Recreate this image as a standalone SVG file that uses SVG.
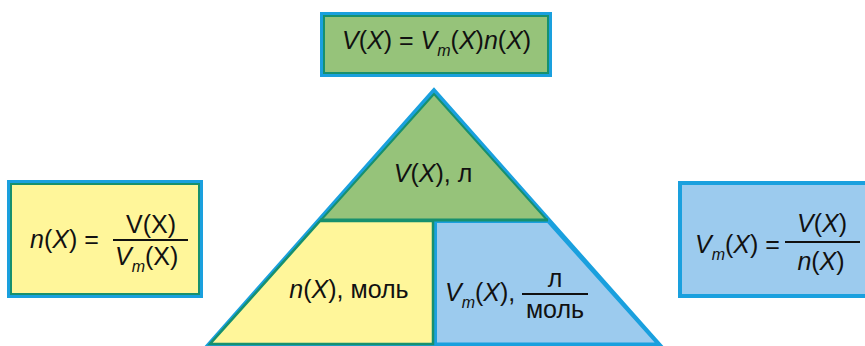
<svg xmlns="http://www.w3.org/2000/svg" width="865" height="346" viewBox="0 0 865 346">
<style>
text{font-family:"Liberation Sans",Arial,sans-serif;font-size:25px;fill:#111}
.i{font-style:italic}
.s{font-style:italic;font-size:16px}
.c{text-anchor:middle}
.blue{stroke:#1aa0de;fill:none}
.teal{stroke:#17906e;fill:none}
.frac{stroke:#111;stroke-width:2}
</style>
<rect width="865" height="346" fill="#ffffff"/>
<g id="formula-V">
<rect x="321.5" y="13.5" width="229" height="62" fill="#96c37a" class="blue" style="fill:#96c37a" stroke-width="3"/>
<rect x="324" y="16" width="224" height="57" class="teal" stroke-width="2"/>
<text x="342" y="49"><tspan class="i">V</tspan>(<tspan class="i">X</tspan>) = <tspan class="i">V</tspan><tspan class="s" dy="7">m</tspan><tspan dy="-7">(</tspan><tspan class="i">X</tspan>)<tspan class="i">n</tspan>(<tspan class="i">X</tspan>)</text>
</g>
<g id="formula-n">
<rect x="8.5" y="181.5" width="193" height="115" class="blue" style="fill:#fff69a" stroke-width="3"/>
<rect x="11" y="184" width="188" height="110" class="teal" stroke-width="2"/>
<text x="30" y="248"><tspan class="i">n</tspan>(<tspan class="i">X</tspan>) =</text>
<line x1="113" y1="240" x2="188" y2="240" class="frac"/>
<text x="151" y="233" class="c">V(X)</text>
<text x="115" y="265"><tspan class="i">V</tspan><tspan class="s" dy="7">m</tspan><tspan dy="-7">(X)</tspan></text>
</g>
<g id="formula-Vm">
<rect x="680" y="183" width="195" height="113" class="blue" style="fill:#9ccbee" stroke-width="4"/>
<text x="695" y="253"><tspan class="i">V</tspan><tspan class="s" dy="7">m</tspan><tspan dy="-7">(</tspan><tspan class="i">X</tspan>) =</text>
<line x1="785" y1="242" x2="860" y2="242" class="frac"/>
<text x="822" y="232" class="c"><tspan class="i">V</tspan>(<tspan class="i">X</tspan>)</text>
<text x="821" y="270" class="c"><tspan class="i">n</tspan>(<tspan class="i">X</tspan>)</text>
</g>
<g id="triangle">
<polygon points="434,91 208,346 660,346" class="blue" stroke-width="5" stroke-linejoin="miter"/>
<polygon points="434,94 321,220 547,220" fill="#96c37a" stroke="#17906e" stroke-width="2"/>
<polygon points="435.5,221.5 548,221.5 658,344 435.5,344" fill="#9ccbee" stroke="#1aa0de" stroke-width="3"/>
<polygon points="320,221 433,221 433,344 210,344" fill="#fff69a" stroke="#17906e" stroke-width="2.5"/>
<line x1="320" y1="220" x2="548" y2="220" stroke="#17906e" stroke-width="3"/>
<text x="433" y="182" class="c"><tspan class="i">V</tspan>(<tspan class="i">X</tspan>), л</text>
<text x="349" y="298" class="c"><tspan class="i">n</tspan>(<tspan class="i">X</tspan>), моль</text>
<text x="445" y="301"><tspan class="i">V</tspan><tspan class="s" dy="7">m</tspan><tspan dy="-7">(</tspan><tspan class="i">X</tspan>),</text>
<line x1="522" y1="294" x2="588" y2="294" class="frac"/>
<text x="555" y="287" class="c">л</text>
<text x="555" y="318" class="c">моль</text>
</g>
</svg>
